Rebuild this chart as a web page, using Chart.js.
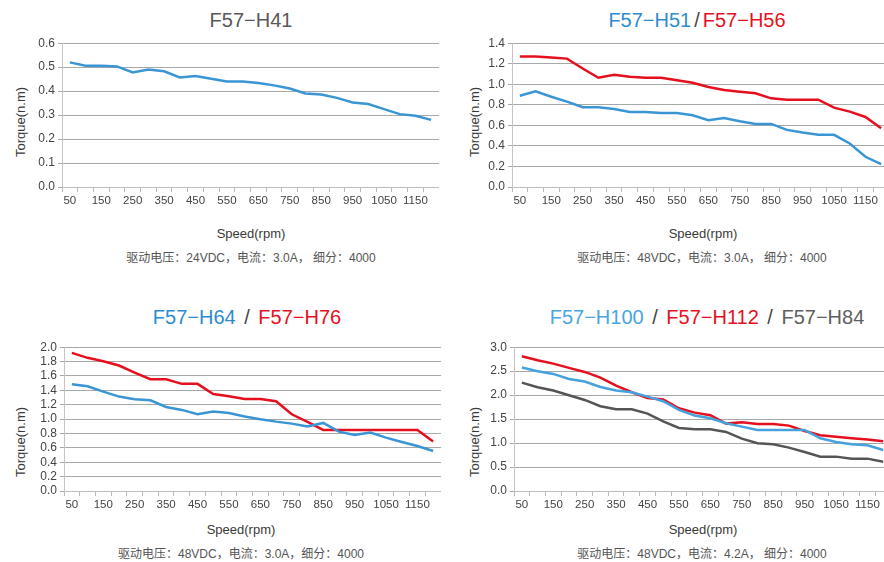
<!DOCTYPE html>
<html>
<head>
<meta charset="utf-8">
<script src="https://cdn.jsdelivr.net/npm/chart.js@4/dist/chart.umd.min.js"></script>
<style>
  html, body { margin: 0; padding: 0; background: #fff; }
  body { width: 884px; height: 562px; position: relative; overflow: hidden;
         font-family: "Liberation Sans", Arial, "Noto Sans CJK SC", sans-serif; }
  canvas { position: absolute; }
  .lbl { position: absolute; transform: translate(-50%, -50%); white-space: nowrap; font-weight: normal; }
  .title { font-size: 20px; color: #595959; }
  .title .sep { color: #444; margin: 0 3px; }
  .axis { font-size: 13px; color: #3a3a3a; }
  .ytitle { transform: translate(-50%, -50%) rotate(-90deg); }
  .note { font-size: 12px; color: #555; }
</style>
</head>
<body>

<div class="lbl title" style="left:251px;top:20px">F57−H41</div>
<div class="lbl title" style="left:697px;top:20px"><span style="color:#2e8bd0">F57−H51</span><span class="sep">/</span><span style="color:#e60f1e">F57−H56</span></div>
<div class="lbl title" style="left:247px;top:317px"><span style="color:#2e8bd0">F57−H64</span><span class="sep"> / </span><span style="color:#e60f1e">F57−H76</span></div>
<div class="lbl title" style="left:707px;top:317px"><span style="color:#4aa5e0">F57−H100</span><span class="sep"> / </span><span style="color:#e60f1e">F57−H112</span><span class="sep"> / </span><span style="color:#606060">F57−H84</span></div>

<div class="lbl axis ytitle" style="left:20px;top:122px">Torque(n.m)</div>
<div class="lbl axis ytitle" style="left:474px;top:122px">Torque(n.m)</div>
<div class="lbl axis ytitle" style="left:20px;top:442px">Torque(n.m)</div>
<div class="lbl axis ytitle" style="left:474px;top:442px">Torque(n.m)</div>

<div class="lbl axis" style="left:251px;top:233px">Speed(rpm)</div>
<div class="lbl axis" style="left:703px;top:233px">Speed(rpm)</div>
<div class="lbl axis" style="left:241px;top:529px">Speed(rpm)</div>
<div class="lbl axis" style="left:703px;top:529px">Speed(rpm)</div>

<div class="lbl note" style="left:251px;top:256px">驱动电压：24VDC，电流：3.0A， 细分：4000</div>
<div class="lbl note" style="left:702px;top:256px">驱动电压：48VDC，电流：3.0A， 细分：4000</div>
<div class="lbl note" style="left:241px;top:552px">驱动电压：48VDC，电流：3.0A，细分：4000</div>
<div class="lbl note" style="left:702px;top:552px">驱动电压：48VDC，电流：4.2A， 细分：4000</div>

<canvas id="c41" width="427" height="184" style="left:12px;top:33px"></canvas>
<canvas id="c51" width="427" height="184" style="left:462px;top:33px"></canvas>
<canvas id="c64" width="427" height="184" style="left:14px;top:337px"></canvas>
<canvas id="c100" width="427" height="184" style="left:464px;top:337px"></canvas>

<script>
const speeds = [50, 100, 150, 200, 250, 300, 350, 400, 450, 500, 550, 600,
                650, 700, 750, 800, 850, 900, 950, 1000, 1050, 1100, 1150, 1200];

const h41Torque = [0.52, 0.506, 0.506, 0.503, 0.478, 0.49, 0.483, 0.457, 0.463, 0.452, 0.44, 0.44,
                   0.434, 0.424, 0.411, 0.39, 0.386, 0.372, 0.353, 0.346, 0.325, 0.304, 0.297, 0.28];

const h51Torque = [0.889, 0.931, 0.879, 0.831, 0.776, 0.776, 0.76, 0.731, 0.731, 0.721, 0.721, 0.698,
                   0.65, 0.672, 0.64, 0.614, 0.614, 0.556, 0.53, 0.508, 0.508, 0.424, 0.294, 0.223];
const h56Torque = [1.271, 1.27, 1.26, 1.25, 1.154, 1.064, 1.093, 1.073, 1.064, 1.064, 1.04, 1.015,
                   0.973, 0.944, 0.928, 0.912, 0.863, 0.85, 0.85, 0.85, 0.773, 0.734, 0.682, 0.572];

const h64Torque = [1.485, 1.457, 1.383, 1.313, 1.276, 1.262, 1.169, 1.128, 1.067, 1.104, 1.086, 1.035,
                   0.998, 0.965, 0.937, 0.896, 0.947, 0.826, 0.78, 0.812, 0.742, 0.682, 0.626, 0.557];
const h76Torque = [1.921, 1.852, 1.805, 1.745, 1.647, 1.555, 1.555, 1.49, 1.49, 1.35, 1.318, 1.281,
                   1.281, 1.248, 1.067, 0.96, 0.849, 0.849, 0.849, 0.849, 0.849, 0.849, 0.849, 0.687];

const h100Torque = [2.575, 2.498, 2.443, 2.338, 2.283, 2.171, 2.095, 2.06, 1.969, 1.872, 1.691, 1.573,
                    1.517, 1.413, 1.343, 1.273, 1.273, 1.273, 1.273, 1.1, 1.023, 0.974, 0.953, 0.856];
const h112Torque = [2.81, 2.728, 2.658, 2.568, 2.484, 2.366, 2.2, 2.06, 1.942, 1.907, 1.726, 1.635,
                    1.58, 1.406, 1.433, 1.399, 1.399, 1.364, 1.253, 1.162, 1.134, 1.1, 1.072, 1.037];
const h84Torque = [2.262, 2.164, 2.095, 1.997, 1.9, 1.768, 1.705, 1.705, 1.614, 1.454, 1.315, 1.287,
                   1.287, 1.232, 1.093, 0.995, 0.974, 0.905, 0.814, 0.717, 0.717, 0.675, 0.675, 0.612];

const BLUE = '#3a95d5';
const LIGHT_BLUE = '#45a2dd';
const RED = '#e60f1e';
const DARK = '#555555';
const FONT = "'Liberation Sans', Arial, sans-serif";

function line(data, color) {
  return {
    data,
    borderColor: color,
    borderWidth: 2.5,
    pointRadius: 0,
    tension: 0,
    fill: false
  };
}

function renderChart(id, datasets, yMax, yStep) {
  const ctx = document.getElementById(id);
  return new Chart(ctx, {
    type: 'line',
    data: { labels: speeds, datasets },
    options: {
      responsive: false,
      animation: false,
      layout: { padding: { top: 10, right: 0, bottom: 0, left: 0 } },
      plugins: { legend: { display: false }, tooltip: { enabled: false } },
      scales: {
        x: {
          offset: true,
          afterFit(s) { s.height = 30; },
          grid: {
            offset: true,
            drawOnChartArea: false,
            tickLength: 5,
            color: '#b8b8b8'
          },
          border: { color: '#bdbdbd', width: 1 },
          ticks: {
            autoSkip: false,
            maxRotation: 0,
            padding: 2,
            color: '#444',
            font: { family: FONT, size: 11.5 },
            callback(v, i) { return i % 2 === 0 ? String(speeds[i]) : ''; }
          }
        },
        y: {
          min: 0,
          max: yMax,
          afterFit(s) { s.width = 50; },
          grid: { color: '#a8a8a8', tickLength: 4 },
          border: { color: '#c4c4c4', width: 1 },
          ticks: {
            stepSize: yStep,
            autoSkip: false,
            padding: 3,
            color: '#444',
            font: { family: FONT, size: 12 },
            callback(v) { return v.toFixed(1); }
          }
        }
      }
    }
  });
}

renderChart('c41', [line(h41Torque, BLUE)], 0.6, 0.1);
renderChart('c51', [line(h51Torque, BLUE), line(h56Torque, RED)], 1.4, 0.2);
renderChart('c64', [line(h64Torque, BLUE), line(h76Torque, RED)], 2.0, 0.2);
renderChart('c100', [line(h84Torque, DARK), line(h100Torque, LIGHT_BLUE), line(h112Torque, RED)], 3.0, 0.5);
</script>
</body>
</html>
